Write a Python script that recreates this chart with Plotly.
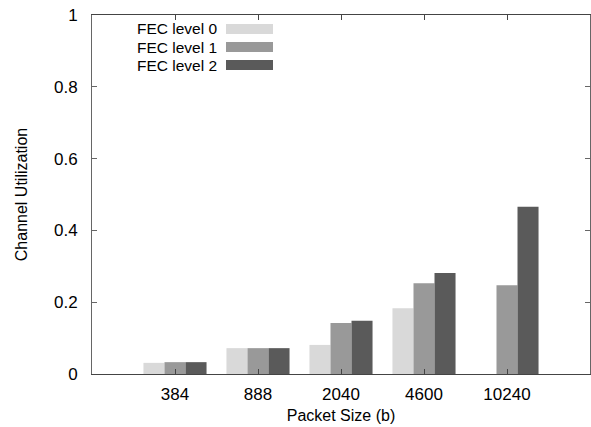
import plotly.graph_objects as go

categories = ["384", "888", "2040", "4600", "10240"]
fec0 = [0.031, 0.072, 0.081, 0.183, None]
fec1 = [0.033, 0.072, 0.142, 0.253, 0.247]
fec2 = [0.033, 0.072, 0.148, 0.281, 0.466]
series_names = ["FEC level 0", "FEC level 1", "FEC level 2"]
series_colors = ["#d9d9d9", "#999999", "#5a5a5a"]
y_ticks = [0, 0.2, 0.4, 0.6, 0.8, 1]
y_ticktext = ["0", "0.2", "0.4", "0.6", "0.8", "1"]

W, H = 591, 427
ML, MR, MT, MB = 92, 1, 15, 53
PW, PH = W - ML - MR, H - MT - MB

xpos = list(range(1, len(categories) + 1))
fig = go.Figure()
for name, vals, col in zip(series_names, [fec0, fec1, fec2], series_colors):
    fig.add_trace(go.Bar(x=xpos, y=vals, name=name, marker_color=col,
                         marker_line_width=0, showlegend=False))

FONT = "Liberation Sans, Arial, sans-serif"

def px2x(px):
    return (px - ML) / PW

def py2y(py):
    return (H - MB - py) / PH

shapes = []
annotations = []
for i, (name, col) in enumerate(zip(series_names, series_colors)):
    cy = 29 + i * 18
    shapes.append(dict(type="rect", xref="paper", yref="paper",
                       x0=px2x(226), x1=px2x(273), y0=py2y(cy + 5), y1=py2y(cy - 5),
                       fillcolor=col, line_width=0))
    annotations.append(dict(xref="paper", yref="paper", x=px2x(218), y=py2y(cy),
                            text=name, showarrow=False, xanchor="right", yanchor="middle",
                            borderpad=0,
                            font=dict(family=FONT, size=15.5, color="#000")))

fig.update_layout(
    width=W, height=H,
    margin=dict(l=ML, r=MR, t=MT, b=MB),
    paper_bgcolor="white", plot_bgcolor="white",
    barmode="group", bargap=0.24, bargroupgap=0,
    font=dict(family=FONT, size=17, color="#000"),
    shapes=shapes, annotations=annotations,
    xaxis=dict(range=[0, 6], tickvals=xpos, ticktext=categories,
               ticks="inside", ticklen=5, tickcolor="#444",
               showline=True, linecolor="#444", linewidth=1, mirror="ticks",
               showgrid=False, zeroline=False, ticklabelstandoff=5,
               tickfont=dict(size=17),
               title=dict(text="Packet Size (b)", font=dict(size=16), standoff=6)),
    yaxis=dict(range=[0, 1], tickvals=y_ticks, ticktext=y_ticktext,
               ticks="inside", ticklen=5, tickcolor="#666",
               showline=True, linecolor="#666", linewidth=1, mirror="ticks",
               showgrid=False, zeroline=False, ticklabelstandoff=10,
               tickfont=dict(size=17),
               title=dict(text="Channel Utilization", font=dict(size=16), standoff=22)),
)

fig.write_html("out.html", config={"displayModeBar": False},
               post_script="document.body.style.margin='0';document.body.style.overflow='hidden';")
